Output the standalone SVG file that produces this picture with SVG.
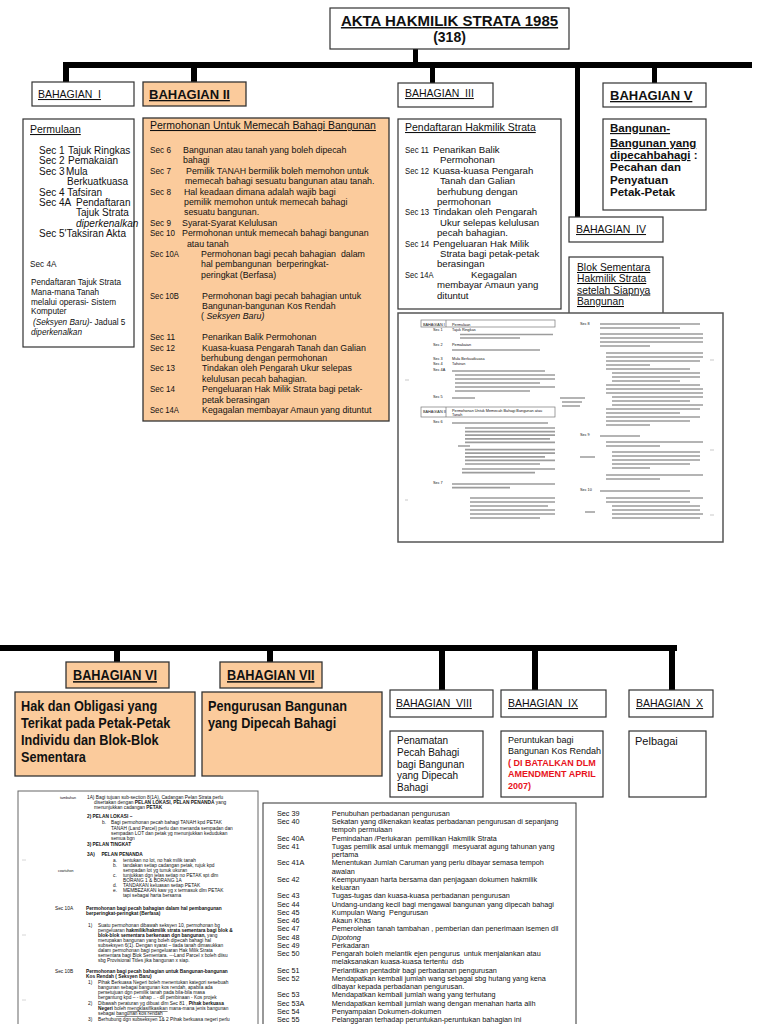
<svg xmlns="http://www.w3.org/2000/svg" width="768" height="1024" viewBox="0 0 768 1024">
<style>
text{font-family:"Liberation Sans",Arial,Helvetica,sans-serif;fill:#111}
.box{fill:#fff;stroke:#333;stroke-width:1.2}
.pe{fill:#FBCB9C;stroke:#333;stroke-width:1.3}
.u{text-decoration:underline}
.b{font-weight:bold}
.f10{font-size:10px}
.f95{font-size:9.6px}
.f105{font-size:10.5px}
.nb{font-weight:bold;font-size:15.5px}
.tiny{font-size:4.8px;fill:#333}
.tl{font-size:3.8px;fill:#555}
.tb{font-size:7.8px;fill:#111}
.ln{stroke:#9c9c9c;stroke-width:1.7;fill:none}
.red{fill:#e8141c;font-weight:bold;font-size:9px}
</style>

<g id="connectors" fill="#000">
<rect x="63" y="62" width="689" height="6"/>
<rect x="413" y="49" width="5" height="14"/>
<rect x="63" y="62" width="6" height="21"/>
<rect x="191" y="62" width="6" height="20"/>
<rect x="430" y="62" width="5" height="21"/>
<rect x="575" y="62" width="5" height="155"/>
<rect x="652" y="62" width="5" height="21"/>
<rect x="0" y="645" width="677" height="6"/>
<rect x="114" y="645" width="6" height="17"/>
<rect x="267" y="645" width="6" height="17"/>
<rect x="439" y="645" width="6" height="45"/>
<rect x="532" y="645" width="6" height="45"/>
<rect x="669" y="645" width="6" height="45"/>
</g>

<g id="title">
<rect class="box" x="330" y="8" width="239" height="41"/>
<text class="b u" x="449.5" y="26" font-size="15" text-anchor="middle">AKTA HAKMILIK STRATA 1985</text>
<text class="b" x="449.5" y="42" font-size="14" text-anchor="middle">(318)</text>
</g>

<g id="bahagian1">
<rect class="box" x="32" y="82" width="102" height="24"/>
<text class="u f105" x="38" y="98" xml:space="preserve">BAHAGIAN  I</text>
</g>
<g id="permulaan">
<rect class="box" x="23" y="119" width="111" height="228"/>
<text class="u f105" x="30" y="133">Permulaan</text>
<g class="f10">
<text x="39" y="154">Sec 1</text><text x="68" y="154">Tajuk Ringkas</text>
<text x="39" y="164.4">Sec 2</text><text x="68" y="164.4">Pemakaian</text>
<text x="39" y="174.8">Sec 3</text><text x="66" y="174.8">Mula</text>
<text x="67" y="185.2">Berkuatkuasa</text>
<text x="39" y="195.6">Sec 4 Tafsiran</text>
<text x="39" y="206">Sec 4A</text><text x="76" y="206">Pendaftaran</text>
<text x="76" y="216.4">Tajuk Strata</text>
<text x="76" y="226.8" font-style="italic">diperkenalkan</text>
<text x="39" y="237.2">Sec 5'Taksiran Akta</text>
</g>
<g font-size="8.2">
<text x="30" y="267">Sec 4A</text>
<text x="31" y="285">Pendaftaran Tajuk Strata</text>
<text x="31" y="295">Mana-mana Tanah</text>
<text x="31" y="305">melalui operasi- Sistem</text>
<text x="31" y="314">Komputer</text>
<text x="33" y="325"><tspan font-style="italic">(Seksyen Baru)</tspan>- Jadual 5</text>
<text x="31" y="335" font-style="italic">diperkenalkan</text>
</g>
</g>

<g id="bahagian2">
<rect class="pe" x="143" y="82" width="103" height="24"/>
<text class="b u" x="149" y="99" font-size="13">BAHAGIAN II</text>
</g>
<g id="permohonan">
<rect class="pe" x="143" y="118" width="246" height="303"/>
<text class="u f105" x="150" y="129">Permohonan Untuk Memecah Bahagi Bangunan</text>
<g class="f95">
<text x="150" y="153" textLength="21" lengthAdjust="spacingAndGlyphs">Sec 6</text>
<text x="150" y="173.8" textLength="21" lengthAdjust="spacingAndGlyphs">Sec 7</text>
<text x="150" y="194.6" textLength="21" lengthAdjust="spacingAndGlyphs">Sec 8</text>
<text x="150" y="225.8" textLength="21" lengthAdjust="spacingAndGlyphs">Sec 9</text>
<text x="150" y="236.2" textLength="25" lengthAdjust="spacingAndGlyphs">Sec 10</text>
<text x="150" y="257" textLength="29" lengthAdjust="spacingAndGlyphs">Sec 10A</text>
<text x="150" y="298.6" textLength="29" lengthAdjust="spacingAndGlyphs">Sec 10B</text>
<text x="150" y="340.2" textLength="25" lengthAdjust="spacingAndGlyphs">Sec 11</text>
<text x="150" y="350.6" textLength="25" lengthAdjust="spacingAndGlyphs">Sec 12</text>
<text x="150" y="371.4" textLength="25" lengthAdjust="spacingAndGlyphs">Sec 13</text>
<text x="150" y="392.2" textLength="25" lengthAdjust="spacingAndGlyphs">Sec 14</text>
<text x="150" y="413" textLength="29" lengthAdjust="spacingAndGlyphs">Sec 14A</text>
</g>
<g class="f95" transform="translate(183 0) scale(0.92 1) translate(-183 0)">
<text x="183" y="153">Bangunan atau tanah yang boleh dipecah</text>
<text x="183" y="163.4">bahagi</text>
<text x="186.3" y="173.8">Pemilik TANAH bermilik boleh memohon untuk</text>
<text x="185.2" y="184.2">memecah bahagi sesuatu bangunan atau tanah.</text>
<text x="184.1" y="194.6">Hal keadaan dimana adalah wajib bagi</text>
<text x="184.1" y="205">pemilik memohon untuk memecah bahagi</text>
<text x="184.1" y="215.4">sesuatu bangunan.</text>
<text x="182" y="225.8">Syarat-Syarat Kelulusan</text>
<text x="182" y="236.2">Permohonan untuk memecah bahagi bangunan</text>
<text x="187.3" y="246.6">atau tanah</text>
<text x="202.6" y="257" xml:space="preserve">Permohonan bagi pecah bahagian  dalam</text>
<text x="202.6" y="267.4" xml:space="preserve">hal pembangunan  berperingkat-</text>
<text x="202.6" y="277.8">peringkat (Berfasa)</text>
<text x="203.7" y="298.6">Permohonan bagi pecah bahagian untuk</text>
<text x="203.7" y="309">Bangunan-bangunan Kos Rendah</text>
<text x="202.6" y="319.4">( <tspan font-style="italic">Seksyen Baru)</tspan></text>
<text x="203.7" y="340.2">Penarikan Balik Permohonan</text>
<text x="203.7" y="350.6">Kuasa-kuasa Pengarah Tanah dan Galian</text>
<text x="202.6" y="361">berhubung dengan permohonan</text>
<text x="203.7" y="371.4">Tindakan oleh Pengarah Ukur selepas</text>
<text x="203.7" y="381.8">kelulusan pecah bahagian.</text>
<text x="203.7" y="392.2">Pengeluaran Hak Milik Strata bagi petak-</text>
<text x="203.7" y="402.6">petak berasingan</text>
<text x="203.7" y="413">Kegagalan membayar Amaun yang dituntut</text>
</g>
</g>

<g id="bahagian3">
<rect class="box" x="398" y="83" width="95" height="24"/>
<text class="u f105" x="405" y="97" xml:space="preserve">BAHAGIAN  III</text>
</g>
<g id="pendaftaran">
<rect class="box" x="398" y="119" width="163" height="190"/>
<text class="u f105" x="405" y="131">Pendaftaran Hakmilik Strata</text>
<g class="f95">
<text x="405" y="153" textLength="24" lengthAdjust="spacingAndGlyphs">Sec 11</text><text x="433" y="153">Penarikan Balik</text>
<text x="440" y="163.4">Permohonan</text>
<text x="405" y="173.8" textLength="24" lengthAdjust="spacingAndGlyphs">Sec 12</text><text x="433" y="173.8">Kuasa-kuasa Pengarah</text>
<text x="440" y="184.2">Tanah dan Galian</text>
<text x="437" y="194.6">berhubung dengan</text>
<text x="437" y="205">permohonan</text>
<text x="405" y="215.4" textLength="24" lengthAdjust="spacingAndGlyphs">Sec 13</text><text x="433" y="215.4">Tindakan oleh Pengarah</text>
<text x="440" y="225.8">Ukur selepas kelulusan</text>
<text x="437" y="236.2">pecah bahagian.</text>
<text x="405" y="246.6" textLength="24" lengthAdjust="spacingAndGlyphs">Sec 14</text><text x="433" y="246.6">Pengeluaran Hak Milik</text>
<text x="440" y="257">Strata bagi petak-petak</text>
<text x="437" y="267.4">berasingan</text>
<text x="405" y="277.8" textLength="28.5" lengthAdjust="spacingAndGlyphs">Sec 14A</text><text x="471" y="277.8">Kegagalan</text>
<text x="437" y="288.2">membayar Amaun yang</text>
<text x="437" y="298.6">dituntut</text>
</g>
</g>

<g id="bahagian5">
<rect class="box" x="603" y="83" width="103" height="24"/>
<text class="b u" x="610" y="100" font-size="13">BAHAGIAN V</text>
</g>
<g id="bangunan-dipecahbahagi">
<rect class="box" x="603" y="119" width="103" height="91"/>
<g class="b" font-size="11.5">
<text class="u" x="610" y="132">Bangunan-</text>
<text class="u" x="610" y="147">Bangunan yang</text>
<text x="610" y="159"><tspan class="u">dipecahbahagi</tspan> :</text>
<text x="610" y="171">Pecahan dan</text>
<text x="610" y="184">Penyatuan</text>
<text x="610" y="196">Petak-Petak</text>
</g>
</g>

<g id="bahagian4">
<rect class="box" x="569" y="217" width="94" height="25"/>
<text class="u f105" x="576" y="233" xml:space="preserve">BAHAGIAN  IV</text>
</g>
<g id="blok-sementara">
<rect class="box" x="569" y="257" width="94" height="60"/>
<g class="u" font-size="10.3">
<text x="577" y="271">Blok Sementara</text>
<text x="577" y="282">Hakmilik Strata</text>
<text x="577" y="293.5">setelah Siapnya</text>
<text x="577" y="305">Bangunan</text>
</g>
</g>

<g id="doc-top">
<rect x="398" y="313" width="325" height="229" fill="#fff" stroke="#555" stroke-width="1.5"/>
<rect x="421" y="320" width="134" height="7" fill="none" stroke="#777" stroke-width="0.7"/>
<line x1="446" y1="320" x2="446" y2="327" stroke="#777" stroke-width="0.7"/>
<rect x="421" y="407" width="134" height="10" fill="none" stroke="#777" stroke-width="0.7"/>
<line x1="446" y1="407" x2="446" y2="417" stroke="#777" stroke-width="0.7"/>
<g class="tl">
<text x="423" y="325.5">BAHAGIAN I</text><text x="452" y="325.5">Permulaan</text>
<text x="433" y="330.5">Sec 1</text><text x="452" y="330.5">Tajuk Ringkas</text>
<text x="433" y="346">Sec 2</text><text x="452" y="346">Pemakaian</text>
<text x="433" y="360">Sec 3</text><text x="452" y="360">Mula Berkuatkuasa</text>
<text x="433" y="365">Sec 4</text><text x="452" y="365">Tafsiran</text>
<text x="433" y="371">Sec 4A</text>
<text x="433" y="398">Sec 5</text>
<text x="423" y="413">BAHAGIAN II</text><text x="452" y="411.5">Permohonan Untuk Memecah Bahagi Bangunan atau</text><text x="452" y="416">Tanah</text>
<text x="433" y="423">Sec 6</text>
<text x="433" y="484">Sec 7</text>
<text x="580" y="325">Sec 8</text>
<text x="580" y="436">Sec 9</text>
<text x="580" y="491">Sec 10</text>
</g>
<path class="ln" d="M460 334.5H553M460 338H520M452 350H540M452 371H545M455 375H555M455 379H555M455 383H540M455 387H555M455 391H530M452 398H475
M452 423H548M465 428H555M465 431.6H555M465 435.2H555M465 438.8H550M465 442.4H555M458 446H470M465 449.6H555M465 453.2H555M465 456.8H545M465 460.4H555M465 464H540M462 469H555M462 472.6H535
M452 484H555M452 487.6H510M470 498H555M470 502H555M470 506H548M470 510H555M470 514H555M470 518H540
M600 324H700M600 328H680M600 334H703M600 338H703M600 342H703M600 346H650
M606 353H703M606 357H703M606 361H700M606 365H650M606 369H690M612 373H700M612 377H700M612 381H680M606 385H700
M606 389H703M606 393H703M612 397H703M612 401H690M612 405H703M606 409H700M606 413H680M606 417H700M606 421H690M606 425H650
M600 436H640M606 442H703M606 446H660M612 452H700M612 456H700M612 460H700M612 464H690M612 468H650M606 475H703M606 479H660
M600 491H690M606 498H703M606 502H690M612 506H700M612 510H700M612 514H703M612 518H700
M560 398H585M562 402H582M562 406H580M580 457H595M585 512H595"/>
<path d="M405 380H409M405 500H408M710 360H714M710 450H714M710 515H714" stroke="#bbb" stroke-width="0.8"/>
</g>

<g id="bahagian6">
<rect class="pe" x="66" y="662" width="103" height="26"/>
<text class="nb u" transform="translate(73 680) scale(0.82 1)" font-size="15">BAHAGIAN VI</text>
</g>
<g id="hak-obligasi">
<rect class="pe" x="15" y="692" width="180" height="84"/>
<text class="nb" transform="translate(21 711) scale(0.82 1)">Hak dan Obligasi yang</text>
<text class="nb" transform="translate(21 728) scale(0.82 1)">Terikat pada Petak-Petak</text>
<text class="nb" transform="translate(21 745) scale(0.82 1)">Individu dan Blok-Blok</text>
<text class="nb" transform="translate(21 762) scale(0.82 1)">Sementara</text>
</g>

<g id="bahagian7">
<rect class="pe" x="220" y="662" width="102" height="26"/>
<text class="nb u" transform="translate(227 680) scale(0.82 1)" font-size="15">BAHAGIAN VII</text>
</g>
<g id="pengurusan">
<rect class="pe" x="202" y="692" width="180" height="84"/>
<text class="nb" transform="translate(208 711) scale(0.82 1)">Pengurusan Bangunan</text>
<text class="nb" transform="translate(208 728) scale(0.82 1)">yang Dipecah Bahagi</text>
</g>

<g id="bahagian8">
<rect class="box" x="390" y="690" width="103" height="27"/>
<text class="u f105" x="396" y="707" xml:space="preserve">BAHAGIAN  VIII</text>
</g>
<g id="penamatan">
<rect class="box" x="390" y="731" width="93" height="66"/>
<g font-size="10">
<text x="397" y="744">Penamatan</text>
<text x="397" y="756">Pecah Bahagi</text>
<text x="397" y="767.5">bagi Bangunan</text>
<text x="397" y="779">yang Dipecah</text>
<text x="397" y="790.5">Bahagi</text>
</g>
</g>

<g id="bahagian9">
<rect class="box" x="501" y="690" width="105" height="27"/>
<text class="u f105" x="508" y="707" xml:space="preserve">BAHAGIAN  IX</text>
</g>
<g id="peruntukan">
<rect class="box" x="501" y="731" width="102" height="66"/>
<text x="508" y="742.5" font-size="9">Peruntukan bagi</text>
<text x="508" y="754" font-size="9">Bangunan Kos Rendah</text>
<text class="red" x="508" y="765.5">( DI BATALKAN DLM</text>
<text class="red" x="508" y="777">AMENDMENT APRIL</text>
<text class="red" x="508" y="788.5">2007)</text>
</g>

<g id="bahagian10">
<rect class="box" x="629" y="690" width="84" height="27"/>
<text class="u f105" x="636" y="707" xml:space="preserve">BAHAGIAN  X</text>
</g>
<g id="pelbagai">
<rect class="box" x="629" y="731" width="77" height="66"/>
<text x="635" y="745" font-size="11">Pelbagai</text>
</g>

<g id="doc-bottom-left">
<rect x="18" y="791" width="240" height="245" fill="#fff" stroke="#666" stroke-width="1"/>
<g class="tiny">
<text x="60" y="799" font-size="3.6" fill="#999">tambahan</text>
<text x="87" y="799">1A) Bagi tujuan sub-section 8(1A), Cadangan Pelan Strata perlu</text>
<text x="94" y="804">disertakan dengan <tspan font-weight="bold">PELAN LOKASI, PELAN PENANDA</tspan> yang</text>
<text x="94" y="809">menunjukkan cadangan <tspan font-weight="bold">PETAK</tspan></text>
<text x="87" y="818" font-weight="bold">2)  PELAN LOKASI –</text>
<text x="102" y="824">b.</text><text x="111" y="824">Bagi permohonan pecah bahagi TANAH kpd PETAK</text>
<text x="111" y="829.5">TANAH (Land Parcel) perlu dan menanda sempadan dan</text>
<text x="111" y="835">sempadan LOT dan petak yg menunjukkan kedudukan</text>
<text x="111" y="840">semua bgn</text>
<text x="87" y="846" font-weight="bold">3)  PELAN TINGKAT</text>
<text x="87" y="856" font-weight="bold" xml:space="preserve">3A)     PELAN PENANDA</text>
<text x="113" y="862">a.</text><text x="123" y="862">tentukan no lot,  no hak milik tanah</text>
<text x="113" y="867">b.</text><text x="123" y="867">tandakan setiap cadangan petak, rujuk kpd</text>
<text x="123" y="871.5">sempadan lot yg tunuk ukuran</text>
<text x="58" y="872" font-size="3.6" fill="#999">cowtuhon</text>
<text x="113" y="877">c.</text><text x="123" y="877">tunjukkan dgn jelas setiap no PETAK spt dlm</text>
<text x="123" y="881.5">BORANG 1 &amp; BORANG 1A</text>
<text x="113" y="887">d.</text><text x="123" y="887">TANDAKAN keluasan setiap PETAK</text>
<text x="113" y="892">e.</text><text x="123" y="892">MEMBEZAKAN kaw yg x termasuk dlm PETAK</text>
<text x="123" y="896.5">tapi sebagai harta bersama</text>
<text x="55" y="910">Sec 10A</text><text x="86" y="910" font-weight="bold">Permohonan bagi pecah bahagian  dalam hal pembangunan</text>
<text x="86" y="915" font-weight="bold">berperingkat-peringkat (Berfasa)</text>
<text x="88" y="927">1)</text><text x="98" y="927">Suatu permohonan dibawah seksyen 10, permohonan bg</text>
<text x="98" y="932">pengeluaran  <tspan font-weight="bold">hakmilik/hakmilik strata sementara bagi blok &amp;</tspan></text>
<text x="98" y="937"><tspan font-weight="bold">blok-blok sementara  berkenaan dgn bangunan,</tspan>  yang</text>
<text x="98" y="942">merupakan bangunan yang boleh dipecah bahagi  hal</text>
<text x="98" y="947">subseksyen 6(1).  Dengan syarat – tiada tanah dimasukkan</text>
<text x="98" y="952">dalam permohonan bagi pengeluaran Hak Milik Strata</text>
<text x="98" y="957">sementara bagi Blok Sementara.  ---Land Parcel x boleh diisu</text>
<text x="98" y="962">sbg Provisional Titles  jika bangunan x siap.</text>
<text x="55" y="973">Sec 10B</text><text x="86" y="973" font-weight="bold">Permohonan bagi pecah bahagian untuk Bangunan-bangunan</text>
<text x="86" y="978" font-weight="bold">Kos Rendah ( Seksyen Baru)</text>
<text x="88" y="984">1)</text><text x="98" y="984">Pihak Berkuasa Negeri boleh menentukan kategori  sesebuah</text>
<text x="98" y="989">bangunan sebagai bangunan kos rendah, apabila ada</text>
<text x="98" y="994">persetujuan dgn pemilik tanah pada bila-bila masa</text>
<text x="98" y="999">bergantung kpd –  - tahap ..  - dll pembinaan  - Kos projek</text>
<text x="88" y="1005">2)</text><text x="98" y="1005">Dibawah peraturan yg dibuat dlm Sec 81 , <tspan font-weight="bold">Pihak berkuasa</tspan></text>
<text x="98" y="1010"><tspan font-weight="bold">Negeri</tspan> boleh <tspan text-decoration="underline">mengklasifikasikan</tspan> mana-mana jenis bangunan</text>
<text x="98" y="1015">sebagai <tspan text-decoration="underline">bangunan kos rendah</tspan></text>
<text x="88" y="1021">3)</text><text x="98" y="1021">Berhubung dgn subseksyen 1&amp; 2 Pihak berkuasa negeri perlu</text>
</g>
<path d="M22 860H26M22 935H26M22 1000H26" stroke="#ccc" stroke-width="0.8"/>
</g>

<g id="table-bahagian7">
<rect x="263" y="803" width="313" height="235" fill="#fff" stroke="#333" stroke-width="1"/>
<g class="tb" transform="translate(263 0) scale(0.93 1) translate(-263 0)">
<text x="278" y="816">Sec 39</text><text x="337" y="816">Penubuhan perbadanan pengurusan</text>
<text x="278" y="824.25">Sec 40</text><text x="337" y="824.25">Sekatan yang dikenakan keatas perbadanan pengurusan di sepanjang</text>
<text x="337" y="832.5">tempoh permulaan</text>
<text x="278" y="840.75">Sec 40A</text><text x="337" y="840.75" xml:space="preserve">Pemindahan /Perlukaran  pemilikan Hakmilik Strata</text>
<text x="278" y="849">Sec 41</text><text x="337" y="849" xml:space="preserve">Tugas pemilik asal untuk memanggil  mesyuarat agung tahunan yang</text>
<text x="337" y="857.25">pertama</text>
<text x="278" y="865.5">Sec 41A</text><text x="337" y="865.5">Menentukan Jumlah Caruman yang perlu dibayar semasa tempoh</text>
<text x="337" y="873.75">awalan</text>
<text x="278" y="882">Sec 42</text><text x="337" y="882">Keempunyaan harta bersama dan penjagaan dokumen hakmilik</text>
<text x="337" y="890.25">keluaran</text>
<text x="278" y="898.5">Sec 43</text><text x="337" y="898.5">Tugas-tugas dan kuasa-kuasa perbadanan pengurusan</text>
<text x="278" y="906.75">Sec 44</text><text x="337" y="906.75">Undang-undang kecil bagi mengawal bangunan yang dipecah bahagi</text>
<text x="278" y="915">Sec 45</text><text x="337" y="915" xml:space="preserve">Kumpulan Wang  Pengurusan</text>
<text x="278" y="923.25">Sec 46</text><text x="337" y="923.25">Akaun Khas</text>
<text x="278" y="931.5">Sec 47</text><text x="337" y="931.5">Pemerolehan tanah tambahan , pemberian dan penerimaan isemen dll</text>
<text x="278" y="939.75">Sec 48</text><text x="337" y="939.75" font-style="italic">Dipotong</text>
<text x="278" y="948">Sec 49</text><text x="337" y="948">Perkadaran</text>
<text x="278" y="956.25">Sec 50</text><text x="337" y="956.25" xml:space="preserve">Pengarah boleh melantik ejen pengurus  untuk menjalankan atau</text>
<text x="337" y="964.5" xml:space="preserve">melaksanakan kuasa-kuasa tertentu  dsb</text>
<text x="278" y="972.75">Sec 51</text><text x="337" y="972.75">Perlantikan pentadbir bagi perbadanan pengurusan</text>
<text x="278" y="981">Sec 52</text><text x="337" y="981">Mendapatkan kembali jumlah wang sebagai sbg hutang yang kena</text>
<text x="337" y="989.25">dibayar kepada perbadanan pengurusan.</text>
<text x="278" y="997.5">Sec 53</text><text x="337" y="997.5">Mendapatkan kembali jumlah wang yang terhutang</text>
<text x="278" y="1005.75">Sec 53A</text><text x="337" y="1005.75">Mendapatkan kembali jumlah wang dengan menahan harta alih</text>
<text x="278" y="1014">Sec 54</text><text x="337" y="1014">Penyampaian Dokumen-dokumen</text>
<text x="278" y="1022.25">Sec 55</text><text x="337" y="1022.25">Pelanggaran terhadap peruntukan-peruntukan bahagian ini</text>
</g>
</g>
</svg>
